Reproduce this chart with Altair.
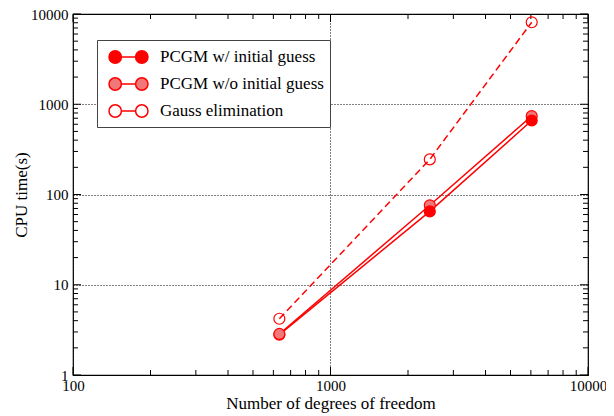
import altair as alt
import pandas as pd

# ---- data ----
series_names = ["PCGM w/ initial guess", "PCGM w/o initial guess", "Gauss elimination"]
dof = [633, 2430, 6045]
pcgm_with = [2.8, 65, 660]
pcgm_without = [2.85, 76, 740]
gauss = [4.2, 245, 8100]

x_major = [100, 1000, 10000]
x_minor = [200, 300, 400, 500, 600, 700, 800, 900,
           2000, 3000, 4000, 5000, 6000, 7000, 8000, 9000]
y_major = [1, 10, 100, 1000, 10000]
y_minor = [m * d for d in [1, 10, 100, 1000] for m in range(2, 10)]

W, H = 515, 361
RED = "#ff0000"
PINK = "#f07878"
FONT = "Liberation Serif"

rows = []
for name, vals in zip(series_names, [pcgm_with, pcgm_without, gauss]):
    for i, (x, y) in enumerate(zip(dof, vals)):
        rows.append({"series": name, "dof": x, "cpu": y, "i": i})
lines_df = pd.DataFrame(rows)

# draw order of markers (later rows on top)
order = []
for i in range(len(dof)):
    if i == 0:
        seq = [series_names[0], series_names[1], series_names[2]]
    else:
        seq = [series_names[1], series_names[0], series_names[2]]
    for s in seq:
        order.append(lines_df[(lines_df.series == s) & (lines_df.i == i)])
points_df = pd.concat(order, ignore_index=True)

xscale = alt.Scale(type="log", domain=[100, 10000])
yscale = alt.Scale(type="log", domain=[1, 10000])

# legend symbol: circle - line - circle (units of 10 px)
sym = ("M-0.5,0A0.62,0.62,0,1,1,0.74,0A0.62,0.62,0,1,1,-0.5,0Z"
       "M0.74,0L2.16,0"
       "M2.16,0A0.62,0.62,0,1,1,3.4,0A0.62,0.62,0,1,1,2.16,0Z")

legend = alt.Legend(
    title=None, orient="none", legendX=24, legendY=26,
    symbolType=sym, symbolSize=400, symbolStrokeWidth=1.5,
    labelFont=FONT, labelFontSize=17, labelColor="black", labelOffset=35,
    labelLimit=400,
    strokeColor="#444444", fillColor="white", padding=6, rowPadding=6,
)

stroke_enc = alt.Stroke("series:N",
                        scale=alt.Scale(domain=series_names, range=[RED, RED, RED]),
                        legend=legend)
fill_enc = alt.Fill("series:N",
                    scale=alt.Scale(domain=series_names, range=[RED, PINK, "transparent"]),
                    legend=legend)

x_axis = alt.Axis(values=x_major, format="d", ticks=False, domain=False,
                  grid=True, gridDash=[1, 2], gridColor="black", gridWidth=1,
                  labelPadding=3, labelFlush=False,
                  title="Number of degrees of freedom", titlePadding=2)
y_axis = alt.Axis(values=y_major, format="d", ticks=False, domain=False,
                  grid=True, gridDash=[1, 2], gridColor="black", gridWidth=1,
                  labelPadding=5, labelFlush=False,
                  title="CPU time(s)", titlePadding=0)

def X(field):
    return alt.X(field, scale=xscale, axis=x_axis)

def Y(field):
    return alt.Y(field, scale=yscale, axis=y_axis)

solid_df = lines_df[lines_df.series != series_names[2]]
dash_df = lines_df[lines_df.series == series_names[2]]

solid_lines = alt.Chart(solid_df).mark_line(strokeWidth=1.5).encode(
    x=X("dof:Q"), y=Y("cpu:Q"),
    stroke=stroke_enc,
    order="i:Q",
)
dash_lines = alt.Chart(dash_df).mark_line(strokeWidth=1.5, strokeDash=[7, 4]).encode(
    x=X("dof:Q"), y=Y("cpu:Q"),
    stroke=stroke_enc,
    order="i:Q",
)

points = alt.Chart(points_df).mark_point(filled=True, size=120, strokeWidth=1.2,
                                          opacity=1, shape="circle").encode(
    x=X("dof:Q"), y=Y("cpu:Q"),
    stroke=stroke_enc,
    fill=fill_enc,
)

# inward tick marks on all four sides
xt = pd.DataFrame({"v": x_major + x_minor,
                   "len": [8] * len(x_major) + [5] * len(x_minor)})
yt = pd.DataFrame({"v": y_major + y_minor,
                   "len": [8] * len(y_major) + [5] * len(y_minor)})

def xticks(y0, sign):
    parts = []
    for L in (8, 5):
        df = xt[xt.len == L].rename(columns={"v": "dof"})
        parts.append(alt.Chart(df).mark_rule(color="black", strokeWidth=1).encode(
            x=X("dof:Q"),
            y=alt.value(y0), y2=alt.value(y0 + sign * L)))
    return parts

def yticks(x0, sign):
    parts = []
    for L in (8, 5):
        df = yt[yt.len == L].rename(columns={"v": "cpu"})
        parts.append(alt.Chart(df).mark_rule(color="black", strokeWidth=1).encode(
            y=Y("cpu:Q"),
            x=alt.value(x0), x2=alt.value(x0 + sign * L)))
    return parts

tick_layers = xticks(H, -1) + xticks(0, 1) + yticks(0, 1) + yticks(W, -1)

chart = alt.layer(solid_lines, dash_lines, *tick_layers, points).properties(
    width=W, height=H,
    autosize=alt.AutoSizeParams(type="none"),
    padding={"left": 65, "top": 6, "right": 18, "bottom": 38},
).configure_view(
    stroke="black", strokeWidth=1.2
).configure_axis(
    labelFont=FONT, labelFontSize=15, labelColor="black",
    titleFont=FONT, titleFontSize=17, titleFontWeight="normal", titleColor="black",
)

chart.save("out.html", embed_options={"renderer": "svg", "actions": False})
